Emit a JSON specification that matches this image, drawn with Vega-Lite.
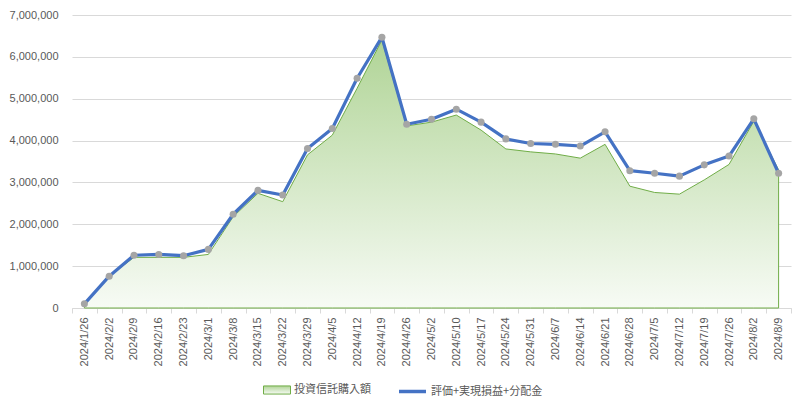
{
  "$schema": "https://vega.github.io/schema/vega-lite/v6.json",
  "width": 719,
  "height": 293,
  "autosize": "none",
  "padding": {"left": 72, "top": 15, "right": 16, "bottom": 100},
  "background": "white",
  "config": {"view": {"stroke": null}, "font": "Liberation Sans"},
  "data": {"values": [
    {"d": "2024/1/26", "a": 100000, "b": 100000},
    {"d": "2024/2/2", "a": 760000, "b": 760000},
    {"d": "2024/2/9", "a": 1210000, "b": 1260000},
    {"d": "2024/2/16", "a": 1210000, "b": 1280000},
    {"d": "2024/2/23", "a": 1210000, "b": 1250000},
    {"d": "2024/3/1", "a": 1280000, "b": 1400000},
    {"d": "2024/3/8", "a": 2180000, "b": 2240000},
    {"d": "2024/3/15", "a": 2740000, "b": 2810000},
    {"d": "2024/3/22", "a": 2540000, "b": 2700000},
    {"d": "2024/3/29", "a": 3660000, "b": 3810000},
    {"d": "2024/4/5", "a": 4130000, "b": 4290000},
    {"d": "2024/4/12", "a": 5250000, "b": 5490000},
    {"d": "2024/4/19", "a": 6400000, "b": 6470000},
    {"d": "2024/4/26", "a": 4350000, "b": 4390000},
    {"d": "2024/5/2", "a": 4440000, "b": 4510000},
    {"d": "2024/5/10", "a": 4610000, "b": 4750000},
    {"d": "2024/5/17", "a": 4250000, "b": 4440000},
    {"d": "2024/5/24", "a": 3800000, "b": 4040000},
    {"d": "2024/5/31", "a": 3730000, "b": 3930000},
    {"d": "2024/6/7", "a": 3680000, "b": 3910000},
    {"d": "2024/6/14", "a": 3580000, "b": 3870000},
    {"d": "2024/6/21", "a": 3910000, "b": 4210000},
    {"d": "2024/6/28", "a": 2910000, "b": 3280000},
    {"d": "2024/7/5", "a": 2760000, "b": 3220000},
    {"d": "2024/7/12", "a": 2720000, "b": 3150000},
    {"d": "2024/7/19", "a": 3060000, "b": 3420000},
    {"d": "2024/7/26", "a": 3430000, "b": 3630000},
    {"d": "2024/8/2", "a": 4460000, "b": 4520000},
    {"d": "2024/8/9", "a": 3300000, "b": 3220000}
  ]},
  "encoding": {
    "x": {
      "field": "d", "type": "ordinal", "sort": null,
      "scale": {"type": "band", "paddingInner": 0, "paddingOuter": 0},
      "axis": {
        "title": null, "labelAngle": -90, "labelFontSize": 11, "labelColor": "#595959",
        "tickBand": "extent", "ticks": true, "tickSize": 5, "tickColor": "#d9d9d9",
        "domainColor": "#d9d9d9", "labelPadding": 4, "grid": false
      }
    }
  },
  "layer": [
    {
      "mark": {
        "type": "area", "strokeWidth": 1,
        "fill": {"gradient": "linear", "x1": 0, "y1": 0, "x2": 0, "y2": 1,
          "stops": [{"offset": 0, "color": "#b0d496"}, {"offset": 1, "color": "#f7fbf5"}]}
      },
      "encoding": {
        "y": {"field": "a", "type": "quantitative", "title": null,
          "scale": {"domain": [0, 7000000]},
          "axis": {"values": [0,1000000,2000000,3000000,4000000,5000000,6000000,7000000], "format": ",.0f", "title": null, "domain": false, "ticks": false, "gridColor": "#d9d9d9", "labelColor": "#595959", "labelFontSize": 11, "labelPadding": 14}},
        "stroke": {"datum": "投資信託購入額", "type": "nominal",
          "scale": {"domain": ["投資信託購入額"], "range": ["#70ad47"]},
          "legend": {
            "title": null, "orient": "none", "legendX": 191, "legendY": 361, "direction": "horizontal",
            "labelFontSize": 11, "labelFont": "Noto Sans CJK JP", "labelColor": "#595959",
            "symbolSize": 729, "labelOffset": 3, "symbolType": "M-1,-0.3H1V0.3H-1Z",
            "symbolFillColor": "#c9e2b8", "symbolStrokeColor": "#70ad47", "symbolStrokeWidth": 1, "symbolOpacity": 1
          }}
      }
    },
    {
      "mark": {"type": "line", "strokeWidth": 3.2, "strokeJoin": "round"},
      "encoding": {
        "y": {"field": "b", "type": "quantitative", "title": null,
          "scale": {"domain": [0, 7000000]},
          "axis": {"values": [0,1000000,2000000,3000000,4000000,5000000,6000000,7000000], "format": ",.0f", "title": null, "domain": false, "ticks": false, "gridColor": "#d9d9d9", "labelColor": "#595959", "labelFontSize": 11, "labelPadding": 14}},
        "color": {"datum": "評価+実現損益+分配金", "type": "nominal",
          "scale": {"domain": ["評価+実現損益+分配金"], "range": ["#4472c4"]},
          "legend": {
            "title": null, "orient": "none", "legendX": 325, "legendY": 361, "direction": "horizontal",
            "labelFontSize": 11, "labelFont": "Noto Sans CJK JP", "labelColor": "#595959",
            "symbolSize": 729, "labelOffset": 3, "symbolType": "stroke", "symbolStrokeWidth": 3.5, "symbolOpacity": 1
          }}
      }
    },
    {
      "mark": {"type": "point", "filled": true, "color": "#a5a5a5", "size": 50, "opacity": 1},
      "encoding": {
        "y": {"field": "b", "type": "quantitative", "title": null,
          "scale": {"domain": [0, 7000000]}}
      }
    }
  ]
}
